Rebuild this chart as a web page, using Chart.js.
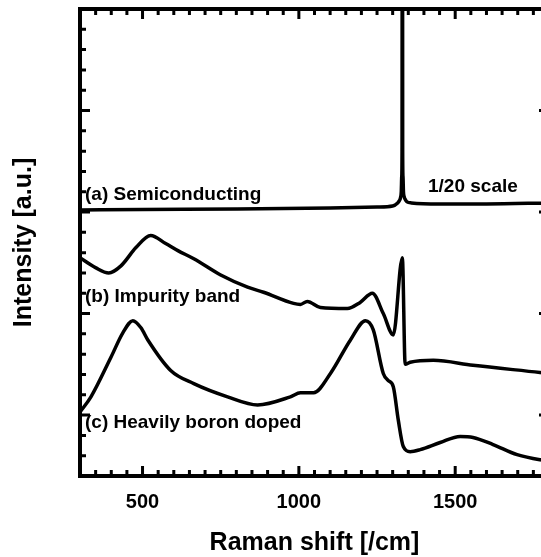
<!DOCTYPE html>
<html>
<head>
<meta charset="utf-8">
<script src="https://cdn.jsdelivr.net/npm/chart.js@4/dist/chart.umd.min.js"></script>
<style>
  html, body { margin: 0; padding: 0; background: #fff; overflow: hidden; }
  #wrap { width: 560px; height: 557px; }
</style>
</head>
<body>
<div id="wrap"><canvas id="raman" width="560" height="557"></canvas></div>
<script>
// (a) semiconducting, shown at 1/20 scale
const shiftA = [300, 500, 800, 1100, 1250, 1300, 1316, 1321, 1325, 1327.5, 1329, 1330, 1331, 1332, 1333, 1334.5, 1337, 1341, 1346, 1360, 1450, 1600, 1800];
const intensA = [2.62, 2.625, 2.63, 2.64, 2.65, 2.66, 2.69, 2.71, 2.74, 2.8, 2.95, 3.2, 10, 3.2, 2.95, 2.8, 2.75, 2.72, 2.70, 2.69, 2.68, 2.68, 2.69];

// (b) impurity band
const shiftB = [300, 351, 392, 431, 479, 526, 574, 613, 664, 750, 836, 887, 983, 1005, 1027, 1069, 1155, 1196, 1235, 1270, 1302, 1331, 1340, 1356, 1430, 1557, 1771, 1800];
const intensB = [2.15, 2.05, 2.00, 2.07, 2.25, 2.37, 2.29, 2.22, 2.14, 1.98, 1.86, 1.81, 1.70, 1.69, 1.72, 1.66, 1.65, 1.71, 1.80, 1.60, 1.39, 2.15, 1.10, 1.12, 1.14, 1.09, 1.02, 1.01];

// (c) heavily boron doped
const shiftC = [300, 335, 399, 437, 469, 495, 517, 590, 664, 772, 868, 973, 1005, 1047, 1101, 1165, 1213, 1238, 1270, 1286, 1302, 1318, 1334, 1356, 1388, 1452, 1516, 1557, 1621, 1698, 1771, 1800];
const intensC = [0.63, 0.78, 1.17, 1.41, 1.53, 1.46, 1.34, 1.04, 0.91, 0.78, 0.70, 0.78, 0.82, 0.82, 1.01, 1.34, 1.53, 1.44, 1.01, 0.94, 0.88, 0.55, 0.29, 0.24, 0.26, 0.33, 0.39, 0.38, 0.31, 0.21, 0.16, 0.15];

const xTickLabels = [500, 1000, 1500];

const FONT = '"Liberation Sans", Arial, sans-serif';

function pts(xs, ys) {
  return xs.map((v, i) => ({ x: v, y: ys[i] }));
}

function line(xs, ys) {
  return {
    data: pts(xs, ys),
    borderColor: '#000',
    borderWidth: 3.5,
    pointRadius: 0,
    fill: false,
    cubicInterpolationMode: 'monotone'
  };
}

// black frame with inward ticks on all four sides
const frameTicks = {
  id: 'frameTicks',
  afterDatasetsDraw(chart) {
    const { ctx, chartArea: a, scales: { x, y } } = chart;
    ctx.save();
    ctx.strokeStyle = '#000';
    ctx.lineWidth = 4;
    ctx.strokeRect(a.left, a.top, a.right - a.left, a.bottom - a.top);
    ctx.lineWidth = 3;
    ctx.beginPath();
    for (let v = 350; v < 1800; v += 50) {
      const px = x.getPixelForValue(v);
      const len = v % 500 === 0 ? 10 : 6;
      ctx.moveTo(px, a.bottom); ctx.lineTo(px, a.bottom - len);
      ctx.moveTo(px, a.top); ctx.lineTo(px, a.top + len);
    }
    for (let k = 1; k < 23; k++) {
      const v = k * 0.2;
      const py = y.getPixelForValue(v);
      const major = (k - 3) % 5 === 0;
      const len = major ? 10 : 6;
      ctx.moveTo(a.left, py); ctx.lineTo(a.left + len, py);
      ctx.moveTo(a.right, py); ctx.lineTo(a.right - len, py);
    }
    ctx.stroke();
    ctx.restore();
  }
};

const notes = {
  id: 'notes',
  afterDraw(chart) {
    const { ctx } = chart;
    ctx.save();
    ctx.fillStyle = '#000';
    ctx.font = 'bold 19px ' + FONT;
    ctx.textBaseline = 'alphabetic';
    ctx.fillText('(a) Semiconducting', 85, 200);
    ctx.fillText('1/20 scale', 428, 192);
    ctx.fillText('(b) Impurity band', 85, 302);
    ctx.fillText('(c) Heavily boron doped', 85, 428);
    ctx.restore();
  }
};

new Chart(document.getElementById('raman'), {
  type: 'line',
  data: {
    datasets: [line(shiftA, intensA), line(shiftB, intensB), line(shiftC, intensC)]
  },
  options: {
    responsive: false,
    animation: false,
    layout: { padding: { top: 9, right: 11, left: 0, bottom: 0 } },
    plugins: { legend: { display: false }, tooltip: { enabled: false } },
    scales: {
      x: {
        type: 'linear',
        min: 300,
        max: 1800,
        afterFit(scale) { scale.height = 81; },
        afterBuildTicks(scale) { scale.ticks = xTickLabels.map(v => ({ value: v })); },
        grid: { display: false, drawTicks: false },
        border: { display: false },
        ticks: {
          color: '#000',
          padding: 14,
          maxRotation: 0,
          callback: v => String(v),
          font: { family: FONT, size: 20, weight: 'bold' }
        },
        title: {
          display: true,
          text: 'Raman shift [/cm]',
          color: '#000',
          padding: { top: 0, bottom: 0 },
          font: { family: FONT, size: 25, weight: 'bold', lineHeight: 1.15 }
        }
      },
      y: {
        type: 'linear',
        min: 0,
        max: 4.6,
        afterFit(scale) { scale.width = 80; },
        grid: { display: false, drawTicks: false },
        border: { display: false },
        ticks: { display: false },
        title: {
          display: true,
          text: 'Intensity [a.u.]',
          color: '#000',
          padding: { top: 9, bottom: 0 },
          font: { family: FONT, size: 25, weight: 'bold', lineHeight: 1.2 }
        }
      }
    }
  },
  plugins: [frameTicks, notes]
});
</script>
</body>
</html>
